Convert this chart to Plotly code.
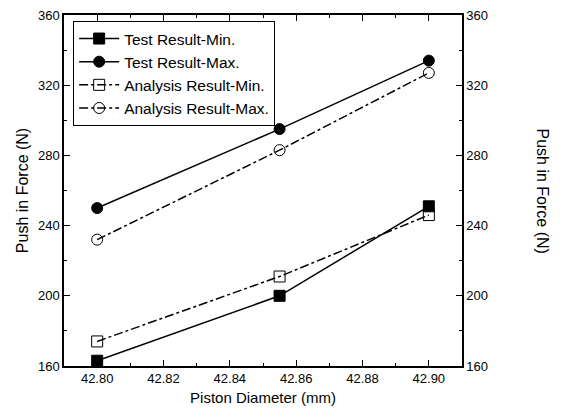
import plotly.graph_objects as go

diameters = [42.80, 42.855, 42.90]
test_min = [163, 200, 251]
test_max = [250, 295, 334]
analysis_min = [174, 211, 246]
analysis_max = [232, 283, 327]

FONT = "Liberation Sans, Arial, sans-serif"

fig = go.Figure()
series = [
    ("Test Result-Min.", test_min, "solid", "square"),
    ("Test Result-Max.", test_max, "solid", "circle"),
    ("Analysis Result-Min.", analysis_min, "dashdot", "square-open"),
    ("Analysis Result-Max.", analysis_max, "dashdot", "circle-open"),
]
for name, ys, dash, sym in series:
    fig.add_trace(go.Scatter(
        x=diameters, y=ys, name=name, mode="lines+markers",
        line=dict(color="black", width=1.5, dash=dash),
        marker=dict(symbol=sym, size=11, color="black",
                    line=dict(color="black", width=1)),
    ))

# invisible trace for right axis
fig.add_trace(go.Scatter(x=[diameters[0]], y=[test_min[0]], yaxis="y2",
                         mode="markers", marker=dict(opacity=0),
                         showlegend=False, hoverinfo="skip"))

axis_common = dict(showline=True, linecolor="black", linewidth=1.5,
                   ticks="inside", ticklen=6, tickcolor="black",
                   showgrid=False, zeroline=False, automargin=False,
                   ticklabeloverflow="allow",
                   tickfont=dict(family=FONT, size=13, color="black"))

fig.update_layout(
    width=556, height=410,
    margin=dict(l=56, r=102, t=7, b=52, autoexpand=False),
    paper_bgcolor="white", plot_bgcolor="white",
    font=dict(family=FONT, color="black"),
    xaxis=dict(range=[42.79, 42.91], tickvals=[42.80, 42.82, 42.84, 42.86, 42.88, 42.90],
               ticktext=["42.80", "42.82", "42.84", "42.86", "42.88", "42.90"],
               mirror="ticks",
               minor=dict(ticks="inside", ticklen=3, dtick=0.01, tick0=42.79, tickcolor="black"),
               title=dict(text="Piston Diameter (mm)", font=dict(family=FONT, size=15), standoff=7),
               **axis_common),
    yaxis=dict(range=[160, 360], dtick=40, mirror=True,
               minor=dict(ticks="inside", ticklen=3, dtick=20, tickcolor="black"),
               title=dict(text="Push in Force (N)", font=dict(family=FONT, size=16), standoff=5),
               **axis_common),
    yaxis2=dict(range=[160, 360], dtick=40, overlaying="y", side="right",
                minor=dict(ticks="inside", ticklen=3, dtick=20, tickcolor="black"),
                **axis_common),
    legend=dict(x=0.023, y=0.983, xanchor="left", yanchor="top",
                bordercolor="black", borderwidth=1, bgcolor="white",
                font=dict(family=FONT, size=15.5), tracegroupgap=0, itemwidth=40),
    showlegend=True,
    annotations=[dict(text="Push in Force (N)", textangle=90, xref="paper", yref="paper",
                      x=1.0, xshift=80, y=0.5, showarrow=False, xanchor="center",
                      font=dict(family=FONT, size=16))],
)

fig.write_html("out.html")
